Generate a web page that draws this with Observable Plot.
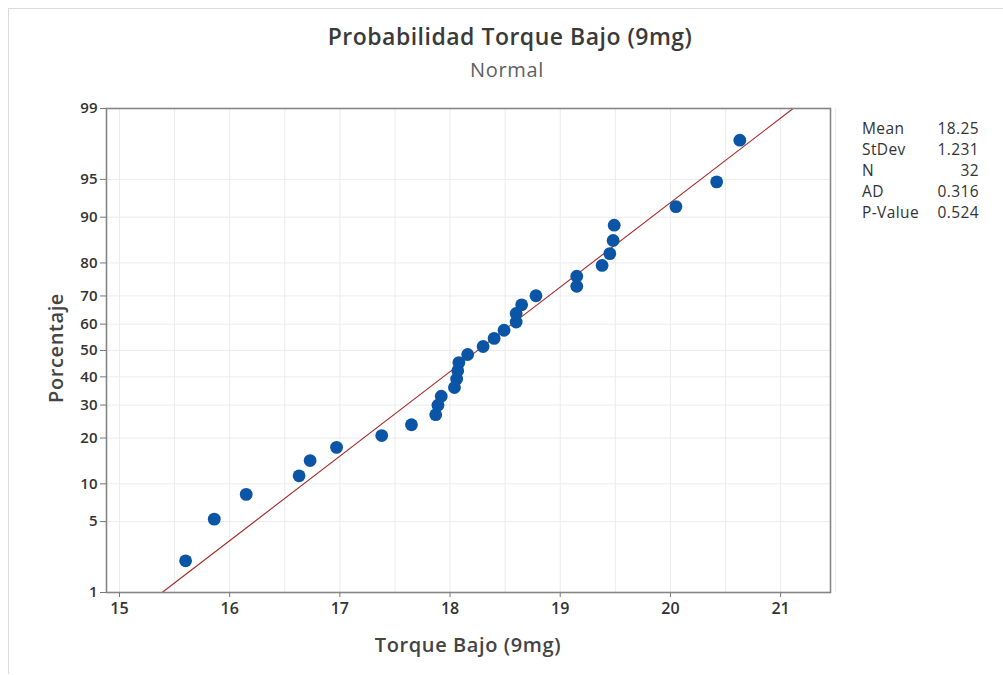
<!DOCTYPE html>
<html>
<head>
<meta charset="utf-8">
<script src="https://cdn.jsdelivr.net/npm/d3@7"></script>
<script src="https://cdn.jsdelivr.net/npm/@observablehq/plot@0.6"></script>
<style>
  html, body { margin: 0; padding: 0; background: #fff; overflow: hidden; }
  #wrap { position: relative; width: 1003px; height: 675px; font-family: "Open Sans", sans-serif; }
  #border { position: absolute; left: 8px; top: 8px; width: 1000px; height: 665px;
            border-left: 1px solid #dcdcdc; border-top: 1px solid #dcdcdc; }
  #chart, #overlay { position: absolute; left: 0; top: 0; }
</style>
</head>
<body>
<div id="wrap">
  <div id="border"></div>
  <div id="chart"></div>
  <svg id="overlay" width="1003" height="675"></svg>
</div>
<script>
// ---- data ----
const torque = [15.60, 15.86, 16.15, 16.63, 16.73, 16.97, 17.38, 17.65, 17.87, 17.89,
                17.92, 18.04, 18.06, 18.07, 18.08, 18.16, 18.30, 18.40, 18.49, 18.60,
                18.60, 18.65, 18.78, 19.15, 19.15, 19.38, 19.45, 19.48, 19.49, 20.05,
                20.42, 20.63];
const percent = [2.16, 5.25, 8.33, 11.42, 14.51, 17.59, 20.68, 23.77, 26.85, 29.94,
                 33.02, 36.11, 39.20, 42.28, 45.37, 48.46, 51.54, 54.63, 57.72, 60.80,
                 63.89, 66.98, 70.06, 73.15, 76.23, 79.32, 82.41, 85.49, 88.58, 91.67,
                 94.75, 97.84];
const yTicks = [1, 5, 10, 20, 30, 40, 50, 60, 70, 80, 90, 95, 99];
const xTicks = [15, 16, 17, 18, 19, 20, 21];
const xGrid = [15, 15.5, 16, 16.5, 17, 17.5, 18, 18.5, 19, 19.5, 20, 20.5, 21, 21.5];
const fitPercent = [1, 99];
const statLabels = ["Mean", "StDev", "N", "AD", "P-Value"];
const statValues = ["18.25", "1.231", "32", "0.316", "0.524"];
const mean = 18.25, stdev = 1.231;
const title = "Probabilidad Torque Bajo (9mg)";
const subtitle = "Normal";
const xLabel = "Torque Bajo (9mg)";
const yLabel = "Porcentaje";

// inverse normal CDF (Acklam)
function probit(p) {
  const a = [-3.969683028665376e+01, 2.209460984245205e+02, -2.759285104469687e+02, 1.383577518672690e+02, -3.066479806614716e+01, 2.506628277459239e+00];
  const b = [-5.447609879822406e+01, 1.615858368580409e+02, -1.556989798598866e+02, 6.680131188771972e+01, -1.328068155288572e+01];
  const c = [-7.784894002430293e-03, -3.223964580411365e-01, -2.400758277161838e+00, -2.549732539343734e+00, 4.374664141464968e+00, 2.938163982698783e+00];
  const d = [7.784695709041462e-03, 3.224671290700398e-01, 2.445134137142996e+00, 3.754408661907416e+00];
  const pl = 0.02425, ph = 1 - pl;
  let q, r;
  if (p < pl) {
    q = Math.sqrt(-2 * Math.log(p));
    return (((((c[0]*q+c[1])*q+c[2])*q+c[3])*q+c[4])*q+c[5]) / ((((d[0]*q+d[1])*q+d[2])*q+d[3])*q+1);
  } else if (p <= ph) {
    q = p - 0.5; r = q * q;
    return (((((a[0]*r+a[1])*r+a[2])*r+a[3])*r+a[4])*r+a[5])*q / (((((b[0]*r+b[1])*r+b[2])*r+b[3])*r+b[4])*r+1);
  } else {
    q = Math.sqrt(-2 * Math.log(1 - p));
    return -(((((c[0]*q+c[1])*q+c[2])*q+c[3])*q+c[4])*q+c[5]) / ((((d[0]*q+d[1])*q+d[2])*q+d[3])*q+1);
  }
}
const z = (pct) => probit(pct / 100);

const points = torque.map((t, i) => ({x: t, p: percent[i]}));
const fit = fitPercent.map(p => ({p, x: mean + stdev * z(p)}));

const chart = Plot.plot({
  width: 1003,
  height: 675,
  marginLeft: 106,
  marginTop: 108,
  marginRight: 173,
  marginBottom: 83,
  style: {fontFamily: "'Open Sans', sans-serif", background: "transparent", overflow: "visible"},
  x: {domain: [14.882, 21.453]},
  y: {domain: [z(1), z(99)]},
  marks: [
    Plot.gridX(xGrid, {stroke: "#ececec", strokeOpacity: 1, strokeWidth: 1}),
    Plot.gridY(yTicks, {y: z, stroke: "#ececec", strokeOpacity: 1, strokeWidth: 1}),
    Plot.axisX(xTicks, {tickSize: 5, tickPadding: 5, stroke: "#777", fill: "#333",
                        fontSize: 16, fontWeight: 600, label: null}),
    Plot.axisY(yTicks, {y: z, text: d => String(d), tickSize: 6, tickPadding: 3,
                        stroke: "#777", fill: "#333", fontSize: 15, fontWeight: 600, label: null}),
    Plot.line(fit, {x: "x", y: d => z(d.p), stroke: "#a82828", strokeWidth: 1.1}),
    Plot.dot(points, {x: "x", y: d => z(d.p), r: 6.4, fill: "#0a55a5", stroke: "none"}),
    Plot.frame({stroke: "#858585", strokeWidth: 1.6})
  ]
});
document.getElementById("chart").appendChild(chart);

// ---- text overlay ----
const ov = d3.select("#overlay").style("font-family", "'Open Sans', sans-serif");
ov.append("text").attr("x", 510).attr("y", 45).attr("text-anchor", "middle")
  .attr("font-size", 23).attr("letter-spacing", 0.5).attr("font-weight", 600).attr("fill", "#3a3a3a").text(title);
ov.append("text").attr("x", 507).attr("y", 77).attr("text-anchor", "middle")
  .attr("font-size", 20).attr("letter-spacing", 0.7).attr("fill", "#5f5f5f").text(subtitle);
ov.append("text").attr("x", 468).attr("y", 652).attr("text-anchor", "middle")
  .attr("font-size", 20).attr("letter-spacing", 0.6).attr("font-weight", 600).attr("fill", "#444").text(xLabel);
ov.append("text").attr("transform", "translate(63,348) rotate(-90)").attr("text-anchor", "middle")
  .attr("font-size", 20).attr("letter-spacing", 0.6).attr("font-weight", 600).attr("fill", "#444").text(yLabel);
statLabels.forEach((s, i) => {
  const y = 134 + i * 21;
  ov.append("text").attr("x", 862).attr("y", y).attr("font-size", 15.5).attr("letter-spacing", 0.4).attr("fill", "#333").text(s);
  ov.append("text").attr("x", 979).attr("y", y).attr("text-anchor", "end")
    .attr("font-size", 15.5).attr("letter-spacing", 0.4).attr("fill", "#333").text(statValues[i]);
});
</script>
</body>
</html>
